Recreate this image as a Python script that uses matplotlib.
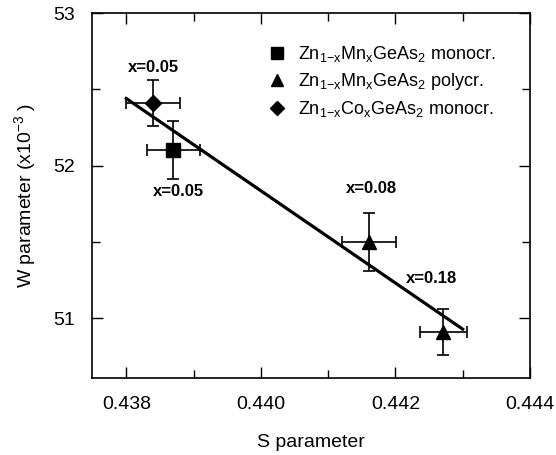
import matplotlib.pyplot as plt
from matplotlib.lines import Line2D

plt.rcParams['font.family'] = ['Liberation Sans', 'DejaVu Sans']
plt.rcParams['mathtext.fontset'] = 'custom'
plt.rcParams['mathtext.rm'] = 'Liberation Sans'
plt.rcParams['mathtext.it'] = 'Liberation Sans'

# S and W parameters (W in units of 1e-3)
mn_mono_s = [0.4387]
mn_mono_w = [52.10]
mn_mono_sx = [0.0004]
mn_mono_wy = [0.19]

mn_poly_s = [0.44161, 0.44271]
mn_poly_w = [51.50, 50.91]
mn_poly_sx = [0.0004, 0.00035]
mn_poly_wy = [0.19, 0.15]

co_mono_s = [0.4384]
co_mono_w = [52.41]
co_mono_sx = [0.0004]
co_mono_wy = [0.15]

fit_s = [0.438, 0.443]
fit_w = [52.44, 50.93]

labels = ["x=0.05", "x=0.05", "x=0.08", "x=0.18"]
label_s = [0.4384, 0.43878, 0.44165, 0.44254]
label_w = [52.64, 51.83, 51.85, 51.26]

fig = plt.figure(figsize=(5.56, 4.55), dpi=100)
ax = fig.add_axes([0.1655, 0.1692, 0.7877, 0.8022])

ebkw = dict(ecolor='black', elinewidth=1.2, capsize=4, capthick=1.2, linestyle='none', color='black')
ax.errorbar(mn_mono_s, mn_mono_w, xerr=mn_mono_sx, yerr=mn_mono_wy, marker='s', markersize=10, **ebkw)
ax.errorbar(mn_poly_s, mn_poly_w, xerr=mn_poly_sx, yerr=mn_poly_wy, marker='^', markersize=10, **ebkw)
ax.errorbar(co_mono_s, co_mono_w, xerr=co_mono_sx, yerr=co_mono_wy, marker='D', markersize=8, **ebkw)

ax.plot(fit_s, fit_w, color='black', linewidth=2.3)

for t, s, w in zip(labels, label_s, label_w):
    ax.text(s, w, t, ha='center', va='center', fontsize=12, fontweight='bold')

ax.set_xlim(0.43749, 0.444)
ax.set_ylim(50.61, 53)
ax.set_xticks([0.438, 0.440, 0.442, 0.444])
ax.set_xticks([0.439, 0.441, 0.443], minor=True)
ax.set_yticks([51, 52, 53])
ax.set_yticks([51.5, 52.5], minor=True)
ax.set_xticklabels(["0.438", "0.440", "0.442", "0.444"])
ax.tick_params(which='both', direction='in', top=True, right=True, labelsize=14)
ax.tick_params(axis='x', pad=13)
ax.tick_params(axis='y', pad=12)
ax.tick_params(which='major', length=8, width=1)
ax.tick_params(which='minor', length=6, width=1)
for sp in ax.spines.values():
    sp.set_linewidth(1.2)

ax.set_xlabel("S parameter", fontsize=14, labelpad=15)
ax.set_ylabel(r"W parameter (x10$^{-3}$ )", fontsize=14, labelpad=11)

handles = [
    Line2D([], [], marker='s', color='black', linestyle='none', markersize=9),
    Line2D([], [], marker='^', color='black', linestyle='none', markersize=9),
    Line2D([], [], marker='D', color='black', linestyle='none', markersize=7),
]
names = [
    r'Zn$_{1\mathrm{-}x}$Mn$_x$GeAs$_2$ monocr.',
    r'Zn$_{1\mathrm{-}x}$Mn$_x$GeAs$_2$ polycr.',
    r'Zn$_{1\mathrm{-}x}$Co$_x$GeAs$_2$ monocr.',
]
ax.legend(handles, names, loc='upper left', bbox_to_anchor=(0.36, 0.96), frameon=False, fontsize=13,
          handletextpad=0.6, labelspacing=0.4, handlelength=1.2)

fig.savefig("out.png", dpi=100)
